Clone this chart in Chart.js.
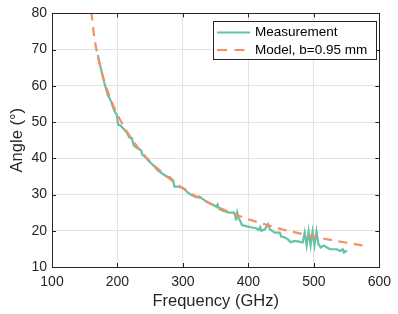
<!DOCTYPE html>
<html>
<head>
<meta charset="utf-8">
<script src="https://cdn.jsdelivr.net/npm/chart.js@4"></script>
<style>
html,body{margin:0;padding:0;background:#fff;}
#wrap{width:398px;height:314px;position:relative;}
</style>
</head>
<body>
<div id="wrap"><canvas id="c" width="398" height="314"></canvas></div>
<script>
// Measurement (frequency GHz, angle deg)
const measFreq = [170,175,180,185,190,195,199,201,205,210,214,218,222,225,230,236,238,242,247,255,262,270,275,280,285,287,292,297,302,307,312,315,320,325,330,335,338,343,348,351,353,355,360,365,370,378,380,381,383,385,388,390,398,405,412,416,418,420,425,430,433,440,448,450,455,460,465,470,478,483,486,489,492,495,498,501,504,507,510.5,515,520,525,535,540,544,546,548,551];
const measAngle = [68.5,64.5,60.8,57.6,55.8,53.2,52.0,49.3,49.0,48.0,47.2,45.8,45.5,43.5,42.8,42.2,41.0,40.5,39.4,38.0,36.6,35.6,35.0,34.8,33.9,32.2,32.2,32.0,31.6,30.6,30.0,29.7,29.3,29.4,28.8,28.2,27.9,27.4,27.0,26.6,27.2,26.1,25.6,25.3,25.0,25.0,24.2,22.9,25.0,23.5,22.6,21.6,21.2,20.9,20.7,20.2,21.0,20.0,20.4,21.8,20.4,19.5,19.5,18.4,18.2,17.7,16.8,17.2,17.0,16.8,19.5,15.9,19.8,16.0,19.8,16.0,19.8,16.3,15.4,15.9,15.4,14.9,14.9,14.4,14.9,14.0,14.4,14.2];
// Model, b = 0.95 mm
const modelFreq = [160,165,170,175,180,190,200,210,220,230,240,250,260,280,300,320,340,360,380,400,425,450,475,500,525,550,582];
const modelAngle = [80.5,73.0,68.2,64.4,61.25,56.15,52.1,48.7,45.8,43.3,41.1,39.1,37.4,34.3,31.7,29.5,27.65,26.0,24.5,23.2,21.8,20.5,19.4,18.4,17.5,16.7,15.7];
const xTicks = [100,200,300,400,500,600];
const yTicks = [10,20,30,40,50,60,70,80];
const seriesNames = ['Measurement','Model, b=0.95 mm'];

const GREEN = '#66c2a5', ORANGE = '#fc8d62', AXC = '#262626';
const FONT = '"Liberation Sans", Arial, Helvetica, sans-serif';

const boxPlugin = {
  id: 'box',
  afterDraw(chart) {
    const ctx = chart.ctx, a = chart.chartArea;
    const xs = chart.scales.x, ys = chart.scales.y;
    ctx.save();
    ctx.strokeStyle = AXC; ctx.lineWidth = 1;
    ctx.strokeRect(Math.round(a.left)+0.5, Math.round(a.top)+0.5, Math.round(a.right-a.left), Math.round(a.bottom-a.top));
    ctx.beginPath();
    const tl = 4;
    xTicks.forEach(v => {
      const px = Math.round(xs.getPixelForValue(v))+0.5;
      ctx.moveTo(px, a.bottom); ctx.lineTo(px, a.bottom - tl);
      ctx.moveTo(px, a.top); ctx.lineTo(px, a.top + tl);
    });
    yTicks.forEach(v => {
      const py = Math.round(ys.getPixelForValue(v))+0.5;
      ctx.moveTo(a.left, py); ctx.lineTo(a.left + tl, py);
      ctx.moveTo(a.right, py); ctx.lineTo(a.right - tl, py);
    });
    ctx.stroke();
    // legend
    const lx = 213.5, ly = 21.5, lw = 163, lh = 38;
    ctx.fillStyle = '#fff';
    ctx.fillRect(lx, ly, lw, lh);
    ctx.strokeStyle = AXC; ctx.lineWidth = 1;
    ctx.strokeRect(lx, ly, lw, lh);
    ctx.lineWidth = 2.2;
    ctx.strokeStyle = GREEN; ctx.setLineDash([]);
    ctx.beginPath(); ctx.moveTo(217, 32.5); ctx.lineTo(250, 32.5); ctx.stroke();
    ctx.strokeStyle = ORANGE; ctx.setLineDash([10, 7.5]);
    ctx.beginPath(); ctx.moveTo(217, 50); ctx.lineTo(252, 50); ctx.stroke();
    ctx.setLineDash([]);
    ctx.fillStyle = '#000';
    ctx.font = '13.5px ' + FONT;
    ctx.textBaseline = 'middle'; ctx.textAlign = 'left';
    ctx.fillText(seriesNames[0], 255, 32.5);
    ctx.fillText(seriesNames[1], 255, 50);
    ctx.restore();
  }
};

new Chart(document.getElementById('c'), {
  type: 'line',
  data: {
    datasets: [
      {
        label: seriesNames[0],
        data: measFreq.map((f,i) => ({x:f, y:measAngle[i]})),
        borderColor: GREEN, borderWidth: 2.2, pointRadius: 0, tension: 0, order: 1
      },
      {
        label: seriesNames[1],
        data: modelFreq.map((f,i) => ({x:f, y:modelAngle[i]})),
        borderColor: ORANGE, borderWidth: 2.2, borderDash: [9, 6.5], pointRadius: 0, tension: 0.4, cubicInterpolationMode: 'monotone', order: 0
      }
    ]
  },
  options: {
    responsive: false,
    animation: false,
    devicePixelRatio: 1,
    layout: { padding: { left: 0, top: 13, right: 13, bottom: 0 } },
    plugins: { legend: { display: false }, tooltip: { enabled: false } },
    scales: {
      x: {
        type: 'linear', min: 100, max: 600,
        afterBuildTicks: s => { s.ticks = xTicks.map(v => ({value: v})); },
        afterFit: s => { s.height = 47; },
        grid: { color: '#e3e3e3', lineWidth: 1, drawTicks: false },
        border: { display: false },
        ticks: { color: AXC, font: { family: FONT, size: 14 }, padding: 7, maxRotation: 0 },
        title: { display: true, text: 'Frequency (GHz)', color: AXC, font: { family: FONT, size: 16.5 }, padding: { top: 0, bottom: 3 } }
      },
      y: {
        type: 'linear', min: 10, max: 80,
        afterBuildTicks: s => { s.ticks = yTicks.map(v => ({value: v})); },
        afterFit: s => { s.width = 52; },
        grid: { color: '#e3e3e3', lineWidth: 1, drawTicks: false },
        border: { display: false },
        ticks: { color: AXC, font: { family: FONT, size: 14 }, padding: 5 },
        title: { display: true, text: 'Angle (°)', color: AXC, font: { family: FONT, size: 16.5 }, padding: { top: 8, bottom: 0 } }
      }
    }
  },
  plugins: [boxPlugin]
});
</script>
</body>
</html>
